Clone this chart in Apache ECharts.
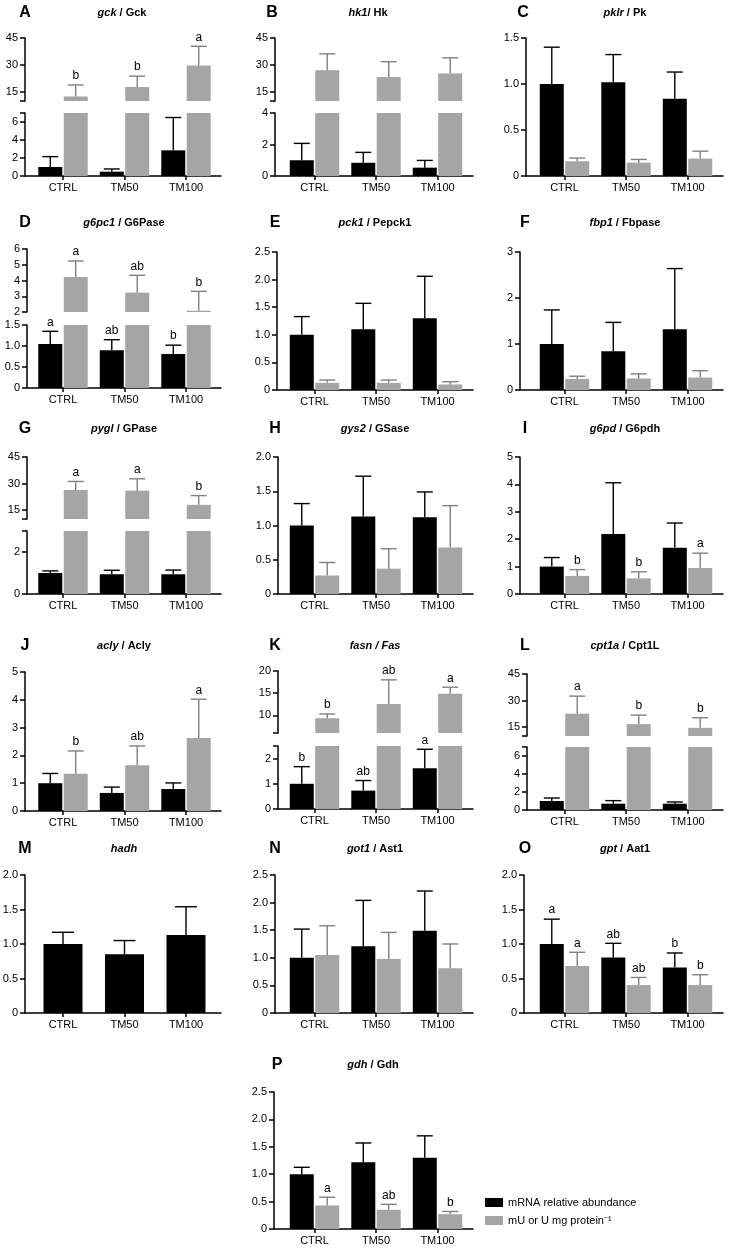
<!DOCTYPE html>
<html><head><meta charset="utf-8">
<script src="https://cdn.jsdelivr.net/npm/echarts@6/dist/echarts.min.js"></script>
<style>html,body{margin:0;padding:0;background:#fff}#c{width:731px;height:1250px}</style>
</head><body><div id="c"></div><script>
// ---------------- DATA ----------------
const categories = ['CTRL', 'TM50', 'TM100'];
const seriesNames = ['mRNA relative abundance', 'mU or U mg protein\u207B\u00B9'];

// A gck / Gck
const gckMrna = [1.0, 0.48, 2.85];   const gckMrnaSd = [1.15, 0.30, 3.65];
const gckEnz = [12.5, 17.8, 29.7];   const gckEnzSd = [6.4, 6.0, 10.7];
const gckEnzLetters = ['b', 'b', 'a'];
// B hk1 / Hk
const hk1Mrna = [1.0, 0.84, 0.53];   const hk1MrnaSd = [1.07, 0.66, 0.46];
const hkEnz = [27.1, 23.3, 25.3];    const hkEnzSd = [9.1, 8.5, 8.7];
// C pklr / Pk
const pklrMrna = [1.0, 1.02, 0.84];  const pklrMrnaSd = [0.40, 0.30, 0.29];
const pkEnz = [0.16, 0.145, 0.19];   const pkEnzSd = [0.035, 0.035, 0.08];
// D g6pc1 / G6Pase
const g6pc1Mrna = [1.05, 0.90, 0.81]; const g6pc1MrnaSd = [0.30, 0.25, 0.21];
const g6pc1MrnaLetters = ['a', 'ab', 'b'];
const g6paseEnz = [4.22, 3.23, 2.08]; const g6paseEnzSd = [1.02, 1.10, 1.23];
const g6paseEnzLetters = ['a', 'ab', 'b'];
// E pck1 / Pepck1
const pck1Mrna = [1.0, 1.10, 1.30];  const pck1MrnaSd = [0.33, 0.47, 0.76];
const pepckEnz = [0.13, 0.13, 0.10]; const pepckEnzSd = [0.05, 0.05, 0.05];
// F fbp1 / Fbpase
const fbp1Mrna = [1.0, 0.84, 1.32];  const fbp1MrnaSd = [0.74, 0.63, 1.32];
const fbpaseEnz = [0.24, 0.25, 0.27]; const fbpaseEnzSd = [0.06, 0.10, 0.15];
// G pygl / GPase
const pyglMrna = [1.0, 0.94, 0.94];  const pyglMrnaSd = [0.10, 0.19, 0.20];
const gpaseEnz = [26.4, 26.0, 18.0]; const gpaseEnzSd = [4.8, 6.7, 5.2];
const gpaseEnzLetters = ['a', 'a', 'b'];
// H gys2 / GSase
const gys2Mrna = [1.0, 1.13, 1.12];  const gys2MrnaSd = [0.32, 0.59, 0.37];
const gsaseEnz = [0.27, 0.37, 0.68]; const gsaseEnzSd = [0.19, 0.29, 0.61];
// I g6pd / G6pdh
const g6pdMrna = [1.0, 2.19, 1.69];  const g6pdMrnaSd = [0.33, 1.87, 0.90];
const g6pdhEnz = [0.66, 0.57, 0.95]; const g6pdhEnzSd = [0.23, 0.24, 0.54];
const g6pdhEnzLetters = ['b', 'b', 'a'];
// J acly / Acly
const aclyMrna = [1.0, 0.65, 0.79];  const aclyMrnaSd = [0.35, 0.21, 0.22];
const aclyEnz = [1.34, 1.65, 2.63];  const aclyEnzSd = [0.82, 0.69, 1.39];
const aclyEnzLetters = ['b', 'ab', 'a'];
// K fasn / Fas
const fasnMrna = [1.0, 0.73, 1.62];  const fasnMrnaSd = [0.68, 0.40, 0.75];
const fasnMrnaLetters = ['b', 'ab', 'a'];
const fasEnz = [9.33, 12.54, 14.85]; const fasEnzSd = [0.97, 5.46, 1.49];
const fasEnzLetters = ['b', 'ab', 'a'];
// L cpt1a / Cpt1L
const cpt1aMrna = [1.0, 0.70, 0.70]; const cpt1aMrnaSd = [0.33, 0.34, 0.19];
const cpt1lEnz = [22.6, 16.7, 14.6]; const cpt1lEnzSd = [9.9, 5.1, 5.7];
const cpt1lEnzLetters = ['a', 'b', 'b'];
// M hadh
const hadhMrna = [1.0, 0.85, 1.13];  const hadhMrnaSd = [0.17, 0.20, 0.41];
// N got1 / Ast1
const got1Mrna = [1.0, 1.21, 1.49];  const got1MrnaSd = [0.52, 0.83, 0.72];
const ast1Enz = [1.05, 0.98, 0.81];  const ast1EnzSd = [0.53, 0.48, 0.44];
// O gpt / Aat1
const gptMrna = [1.0, 0.805, 0.66];  const gptMrnaSd = [0.36, 0.205, 0.21];
const gptMrnaLetters = ['a', 'ab', 'b'];
const aat1Enz = [0.68, 0.405, 0.405]; const aat1EnzSd = [0.20, 0.11, 0.15];
const aat1EnzLetters = ['a', 'ab', 'b'];
// P gdh / Gdh
const gdhMrna = [1.0, 1.22, 1.30];   const gdhMrnaSd = [0.126, 0.35, 0.40];
const gdhEnz = [0.43, 0.35, 0.27];   const gdhEnzSd = [0.15, 0.10, 0.05];
const gdhEnzLetters = ['a', 'ab', 'b'];

// tick labels
const ticksUpper45 = ['15', '30', '45'];
const ticksLower7 = ['0', '2', '4', '6'];
const ticksLower4 = ['0', '2', '4'];
const ticksLower3 = ['0', '2'];
const ticks1p5 = ['0', '0.5', '1.0', '1.5'];
const ticks2p0 = ['0', '0.5', '1.0', '1.5', '2.0'];
const ticks2p5 = ['0', '0.5', '1.0', '1.5', '2.0', '2.5'];
const ticks3 = ['0', '1', '2', '3'];
const ticks5 = ['0', '1', '2', '3', '4', '5'];
const ticksUpperD = ['2', '3', '4', '5', '6'];
const ticksUpperK = ['10', '15', '20'];
const ticksLowerK = ['0', '1', '2'];

// ---------------- LAYOUT ----------------
const FONT = '"Liberation Sans", Arial, Helvetica, sans-serif';
const BLACK = '#000000', GRAY = '#a5a5a5', GRAY_ERR = '#808080';
const cols = [
  {c0: 63, sp: 61.5, end: 221, titleX: 124, letterX: 25},
  {c0: 314.5, sp: 61.5, end: 473, titleX: 375, letterX: 275},
  {c0: 564.5, sp: 61.5, end: 723, titleX: 625, letterX: 525}
];
const rowTitleY = [13, 223, 429, 646, 849, 1065];

const panels = [
  {letter: 'A', title: '{i|gck}{n| / Gck}', col: 0, row: 0, axisX: 25, titleX: 122,
   mrna: gckMrna, mrnaSd: gckMrnaSd, enz: gckEnz, enzSd: gckEnzSd, enzLetters: gckEnzLetters,
   segs: [{top: 38, bottom: 101, min: 10, max: 45, labels: ticksUpper45}, {top: 113, bottom: 176, min: 0, max: 7, labels: ticksLower7}]},
  {letter: 'B', title: '{i|hk1}{n|/ Hk}', col: 1, row: 0, axisX: 275, titleX: 368, letterX: 272,
   mrna: hk1Mrna, mrnaSd: hk1MrnaSd, enz: hkEnz, enzSd: hkEnzSd,
   segs: [{top: 38, bottom: 101, min: 10, max: 45, labels: ticksUpper45}, {top: 113, bottom: 176, min: 0, max: 4, labels: ticksLower4}]},
  {letter: 'C', title: '{i|pklr}{n| / Pk}', col: 2, row: 0, axisX: 526, letterX: 523,
   mrna: pklrMrna, mrnaSd: pklrMrnaSd, enz: pkEnz, enzSd: pkEnzSd,
   segs: [{top: 38, bottom: 176, min: 0, max: 1.5, labels: ticks1p5}]},
  {letter: 'D', title: '{i|g6pc1}{n| / G6Pase}', col: 0, row: 1, axisX: 27,
   mrna: g6pc1Mrna, mrnaSd: g6pc1MrnaSd, mrnaLetters: g6pc1MrnaLetters, enz: g6paseEnz, enzSd: g6paseEnzSd, enzLetters: g6paseEnzLetters,
   segs: [{top: 249, bottom: 312, min: 2, max: 6, labels: ticksUpperD}, {top: 325, bottom: 388, min: 0, max: 1.5, labels: ticks1p5}]},
  {letter: 'E', title: '{i|pck1}{n| / Pepck1}', col: 1, row: 1, axisX: 277,
   mrna: pck1Mrna, mrnaSd: pck1MrnaSd, enz: pepckEnz, enzSd: pepckEnzSd,
   segs: [{top: 252, bottom: 390, min: 0, max: 2.5, labels: ticks2p5}]},
  {letter: 'F', title: '{i|fbp1}{n| / Fbpase}', col: 2, row: 1, axisX: 520,
   mrna: fbp1Mrna, mrnaSd: fbp1MrnaSd, enz: fbpaseEnz, enzSd: fbpaseEnzSd,
   segs: [{top: 252, bottom: 390, min: 0, max: 3, labels: ticks3}]},
  {letter: 'G', title: '{i|pygl}{n| / GPase}', col: 0, row: 2, axisX: 27,
   mrna: pyglMrna, mrnaSd: pyglMrnaSd, enz: gpaseEnz, enzSd: gpaseEnzSd, enzLetters: gpaseEnzLetters,
   segs: [{top: 457, bottom: 519, min: 10, max: 45, labels: ticksUpper45}, {top: 531, bottom: 594, min: 0, max: 3, labels: ticksLower3}]},
  {letter: 'H', title: '{i|gys2}{n| / GSase}', col: 1, row: 2, axisX: 278,
   mrna: gys2Mrna, mrnaSd: gys2MrnaSd, enz: gsaseEnz, enzSd: gsaseEnzSd,
   segs: [{top: 457, bottom: 594, min: 0, max: 2, labels: ticks2p0}]},
  {letter: 'I', title: '{i|g6pd}{n| / G6pdh}', col: 2, row: 2, axisX: 520,
   mrna: g6pdMrna, mrnaSd: g6pdMrnaSd, enz: g6pdhEnz, enzSd: g6pdhEnzSd, enzLetters: g6pdhEnzLetters,
   segs: [{top: 457, bottom: 594, min: 0, max: 5, labels: ticks5}]},
  {letter: 'J', title: '{i|acly}{n| / Acly}', col: 0, row: 3, axisX: 25,
   mrna: aclyMrna, mrnaSd: aclyMrnaSd, enz: aclyEnz, enzSd: aclyEnzSd, enzLetters: aclyEnzLetters,
   segs: [{top: 672, bottom: 811, min: 0, max: 5, labels: ticks5}]},
  {letter: 'K', title: '{i|fasn / Fas}', col: 1, row: 3, axisX: 278,
   mrna: fasnMrna, mrnaSd: fasnMrnaSd, mrnaLetters: fasnMrnaLetters, enz: fasEnz, enzSd: fasEnzSd, enzLetters: fasEnzLetters,
   segs: [{top: 671, bottom: 733, min: 6, max: 20, labels: ticksUpperK}, {top: 746, bottom: 809, min: 0, max: 2.5, labels: ticksLowerK}]},
  {letter: 'L', title: '{i|cpt1a}{n| / Cpt1L}', col: 2, row: 3, axisX: 527,
   mrna: cpt1aMrna, mrnaSd: cpt1aMrnaSd, enz: cpt1lEnz, enzSd: cpt1lEnzSd, enzLetters: cpt1lEnzLetters,
   segs: [{top: 674, bottom: 736, min: 10, max: 45, labels: ticksUpper45}, {top: 747, bottom: 810, min: 0, max: 7, labels: ticksLower7}]},
  {letter: 'M', title: '{i|hadh}', col: 0, row: 4, axisX: 25, barWidth: 39,
   mrna: hadhMrna, mrnaSd: hadhMrnaSd,
   segs: [{top: 875, bottom: 1013, min: 0, max: 2, labels: ticks2p0}]},
  {letter: 'N', title: '{i|got1}{n| / Ast1}', col: 1, row: 4, axisX: 275,
   mrna: got1Mrna, mrnaSd: got1MrnaSd, enz: ast1Enz, enzSd: ast1EnzSd,
   segs: [{top: 875, bottom: 1013, min: 0, max: 2.5, labels: ticks2p5}]},
  {letter: 'O', title: '{i|gpt}{n| / Aat1}', col: 2, row: 4, axisX: 524,
   mrna: gptMrna, mrnaSd: gptMrnaSd, mrnaLetters: gptMrnaLetters, enz: aat1Enz, enzSd: aat1EnzSd, enzLetters: aat1EnzLetters,
   segs: [{top: 875, bottom: 1013, min: 0, max: 2, labels: ticks2p0}]},
  {letter: 'P', title: '{i|gdh}{n| / Gdh}', col: 1, row: 5, axisX: 274, titleX: 373, letterX: 277,
   mrna: gdhMrna, mrnaSd: gdhMrnaSd, enz: gdhEnz, enzSd: gdhEnzSd, enzLetters: gdhEnzLetters,
   segs: [{top: 1092, bottom: 1229, min: 0, max: 2.5, labels: ticks2p5}]}
];

// ---------------- BUILD ----------------
const grids = [], xAxes = [], yAxes = [], series = [], graphics = [];
const axisLineStyle = {color: '#000', width: 1.5};
const labelStyle = {fontSize: 11, fontFamily: FONT, color: '#000'};
const BAR_W = 24, GAP_PCT = 0.06;

function errSeries(gi, means, sds, letters, offset, color, capHalf, s) {
  const data = [];
  means.forEach((m, i) => { if (m > s.min && m <= s.max) data.push([i, m, sds[i]]); });
  return {
    type: 'custom', xAxisIndex: gi, yAxisIndex: gi, z: 5, silent: true, clip: false,
    data: data, encode: {x: 0, y: 1},
    renderItem: function (params, api) {
      const i = api.value(0), m = api.value(1), sd = api.value(2);
      const b = api.coord([i, m]);
      const t = api.coord([i, m + sd]);
      const cx = b[0] + offset;
      const ch = [
        {type: 'line', shape: {x1: cx, y1: b[1], x2: cx, y2: t[1]}, style: {stroke: color, lineWidth: 1.4}},
        {type: 'line', shape: {x1: cx - capHalf, y1: t[1], x2: cx + capHalf, y2: t[1]}, style: {stroke: color, lineWidth: 1.4}}
      ];
      if (letters && letters[i]) {
        ch.push({type: 'text', x: cx, y: t[1] - 3,
          style: {text: letters[i], fill: '#000', fontSize: 12, fontFamily: FONT, align: 'center', verticalAlign: 'bottom'}});
      }
      return {type: 'group', children: ch};
    }
  };
}

panels.forEach(p => {
  const col = cols[p.col];
  const xmin = (p.axisX - col.c0) / col.sp;
  const xmax = 2 + (col.end - (col.c0 + 2 * col.sp)) / col.sp;
  const bw = p.barWidth || BAR_W;
  const both = !!(p.mrna && p.enz);
  const off = both ? (bw + bw * GAP_PCT) / 2 : 0;
  const capHalf = both ? 8 : 11;
  p.segs.forEach((s, si) => {
    const gi = grids.length;
    const isBottom = si === p.segs.length - 1;
    grids.push({left: p.axisX, width: col.end - p.axisX, top: s.top, height: s.bottom - s.top, outerBoundsMode: 'none'});
    xAxes.push({
      type: 'value', gridIndex: gi, min: xmin, max: xmax, show: isBottom,
      axisLine: {show: true, onZero: false, lineStyle: axisLineStyle},
      axisTick: {show: true, customValues: [0, 1, 2], length: 4, lineStyle: axisLineStyle},
      axisLabel: Object.assign({customValues: [0, 1, 2], margin: 6, formatter: v => categories[Math.round(v)]}, labelStyle),
      splitLine: {show: false}
    });
    const labelVals = s.labels.map(parseFloat);
    const tickVals = labelVals.slice();
    if (tickVals.indexOf(s.min) < 0) tickVals.push(s.min);
    if (tickVals.indexOf(s.max) < 0) tickVals.push(s.max);
    yAxes.push({
      type: 'value', gridIndex: gi, min: s.min, max: s.max,
      axisLine: {show: true, onZero: false, lineStyle: axisLineStyle},
      axisTick: {show: true, customValues: tickVals, length: 5, lineStyle: axisLineStyle},
      axisLabel: Object.assign({customValues: labelVals, margin: 7, formatter: v => {
        for (let k = 0; k < labelVals.length; k++) if (Math.abs(labelVals[k] - v) < 1e-9) return s.labels[k];
        return '';
      }}, labelStyle),
      splitLine: {show: false}
    });
    if (p.mrna) {
      series.push({type: 'bar', name: seriesNames[0], xAxisIndex: gi, yAxisIndex: gi, silent: true, clip: true,
        data: p.mrna.map((v, i) => [i, v]), barWidth: bw, barGap: (GAP_PCT * 100) + '%', itemStyle: {color: BLACK}});
      series.push(errSeries(gi, p.mrna, p.mrnaSd, p.mrnaLetters, -off, BLACK, capHalf, s));
    }
    if (p.enz) {
      series.push({type: 'bar', name: seriesNames[1], xAxisIndex: gi, yAxisIndex: gi, silent: true, clip: true,
        data: p.enz.map((v, i) => [i, v]), barWidth: bw, barGap: (GAP_PCT * 100) + '%', itemStyle: {color: GRAY}});
      series.push(errSeries(gi, p.enz, p.enzSd, p.enzLetters, off, GRAY_ERR, capHalf, s));
    }
  });
  const ty = rowTitleY[p.row];
  graphics.push({type: 'text', x: p.letterX != null ? p.letterX : col.letterX, y: ty,
    style: {text: p.letter, fontSize: 16, fontWeight: 'bold', fontFamily: FONT, fill: '#000', align: 'center', verticalAlign: 'middle'}});
  graphics.push({type: 'text', x: p.titleX != null ? p.titleX : col.titleX, y: ty,
    style: {text: p.title, align: 'center', verticalAlign: 'middle', fontSize: 11, fontWeight: 'bold', fontFamily: FONT, fill: '#000',
      rich: {
        i: {fontStyle: 'italic', fontWeight: 'bold', fontSize: 11, fontFamily: FONT, fill: '#000'},
        n: {fontStyle: 'normal', fontWeight: 'bold', fontSize: 11, fontFamily: FONT, fill: '#000'}
      }}});
});

const chart = echarts.init(document.getElementById('c'), null, {renderer: 'canvas', width: 731, height: 1250});
chart.setOption({
  animation: false,
  backgroundColor: '#ffffff',
  textStyle: {fontFamily: FONT},
  grid: grids,
  xAxis: xAxes,
  yAxis: yAxes,
  series: series,
  legend: {
    data: seriesNames, orient: 'vertical', left: 485, top: 1197, padding: 0,
    itemWidth: 18, itemHeight: 9, itemGap: 7, icon: 'rect', selectedMode: false,
    textStyle: {fontSize: 11, fontFamily: FONT, color: '#000'}
  },
  graphic: {elements: graphics}
});
</script></body></html>
